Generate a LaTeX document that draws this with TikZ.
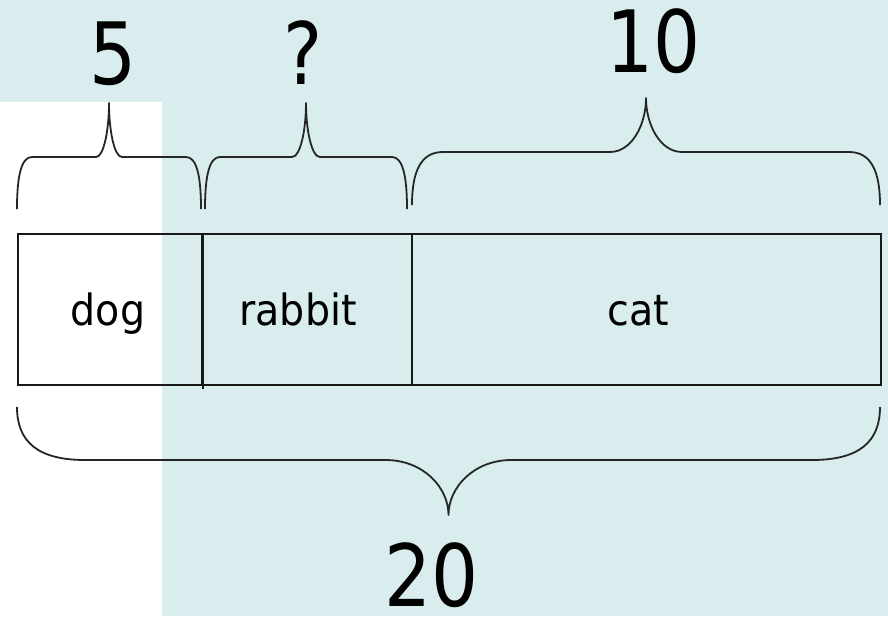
\documentclass[tikz,border=0pt]{standalone}
\usepackage{fontspec}
\setmainfont{DejaVu Sans}[FakeStretch=0.92]
\newfontfamily\numfont{DejaVu Sans}[FakeStretch=0.86]
\definecolor{paleblue}{RGB}{217,236,238}
\definecolor{inkline}{RGB}{25,25,25}

% Curly brace: ends at y=#3, bar at y=#4, tip at y=#5, between x=#1 and x=#2;
% #6 = width of the end bends, #7 = width of the tip bends
\newcommand\curlybrace[7]{%
  \pgfmathsetmacro\bmid{(#1+#2)/2}%
  \draw[bracestyle] (#1,#3)
    .. controls (#1,{#4+0.35*(#3-#4)}) and ({#1+0.3*#6},#4) .. ({#1+#6},#4)
    -- ({\bmid-#7},#4)
    .. controls ({\bmid-0.4*#7},#4) and (\bmid,{#4+0.5*(#5-#4)}) .. (\bmid,#5)
    .. controls (\bmid,{#4+0.5*(#5-#4)}) and ({\bmid+0.4*#7},#4) .. ({\bmid+#7},#4)
    -- ({#2-#6},#4)
    .. controls ({#2-0.3*#6},#4) and (#2,{#4+0.35*(#3-#4)}) .. (#2,#3);
}

\begin{document}
\begin{tikzpicture}[x=1pt,y=-1pt,
  bracestyle/.style={draw=black!85,line width=1.8pt,line join=round},
  segbox/.style={draw=inkline,line width=1.7pt,inner sep=0pt,anchor=north west},
  lbl/.style={inner sep=0pt,anchor=base,font=\fontsize{43}{50}\selectfont},
  num/.style={inner sep=0pt,anchor=base,font=\numfont\fontsize{86}{96}\selectfont}]

  % backdrop
  \fill[paleblue] (0,0) rectangle (888,616);
  \fill[white] (0,102) rectangle (162,616);
  \useasboundingbox (0,0) rectangle (888,616);

  % braces
  \curlybrace{17}{201}{209}{157}{103}{15}{13}
  \curlybrace{205}{407}{209}{157}{103}{15}{14}
  \curlybrace{412}{880}{205}{152}{98}{31}{36}
  \curlybrace{17}{880}{407}{460}{515}{68}{63}

  % the three parts of the bar
  \node[segbox,minimum width=184pt,minimum height=151pt] (dogbox) at (17,233) {};
  \node[segbox,minimum width=210pt,minimum height=151pt] (rabbitbox) at (201,233) {};
  \node[segbox,minimum width=469pt,minimum height=151pt] (catbox) at (411,233) {};
  \draw[inkline,line width=2.4pt] (dogbox.north east) -- ([yshift=-3pt]dogbox.south east);

  % part labels
  \node[lbl] (dog) at (108,325) {dog};
  \node[lbl] (rabbit) at (298,325) {rabbit};
  \node[lbl] (cat) at (638,325) {cat};

  % quantities
  \node[num] (five) at (113,84) {5};
  \node[num] (unknown) at (303,84) {?};
  \node[num] (ten) at (654,72) {10};
  \node[num] (twenty) at (432,606) {20};
\end{tikzpicture}
\end{document}
